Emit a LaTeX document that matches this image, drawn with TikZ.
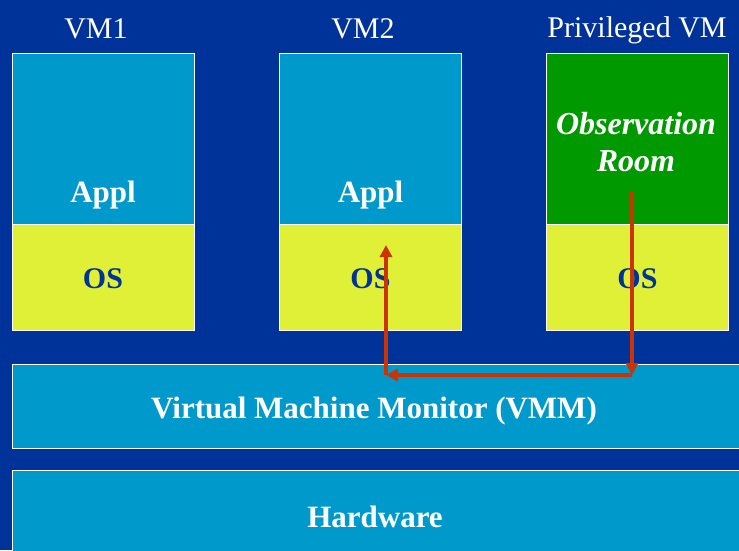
\documentclass[tikz,border=0pt]{standalone}
\usepackage{fontspec}
\setmainfont{Liberation Serif}
\usetikzlibrary{arrows.meta}
\definecolor{bgblue}{RGB}{0,51,153}
\definecolor{boxblue}{RGB}{0,153,204}
\definecolor{osyellow}{RGB}{223,240,55}
\definecolor{obsgreen}{RGB}{0,153,0}
\definecolor{arrred}{RGB}{204,51,0}
\tikzset{
  box/.style={draw=white, line width=0.9pt, inner sep=0pt, minimum width=182pt},
  applbox/.style={box, fill=boxblue, minimum height=171pt},
  osbox/.style={box, fill=osyellow, minimum height=106pt},
  obsbox/.style={box, fill=obsgreen, minimum height=171pt},
  wide/.style={draw=white, line width=0.9pt, inner sep=0pt, fill=boxblue, minimum width=740pt},
  vmlabel/.style={text=white, font=\fontsize{30}{32}\selectfont},
  appltext/.style={text=white, font=\bfseries\fontsize{31}{33}\selectfont},
  ostext/.style={text=bgblue, font=\bfseries\fontsize{30}{32}\selectfont},
  obstext/.style={text=white, font=\bfseries\itshape\fontsize{32}{37}\selectfont, align=center},
  widetext/.style={text=white, font=\bfseries\fontsize{31}{33}\selectfont},
  flow/.style={draw=arrred, line width=3.2pt, -{Triangle[width=12pt,length=12pt]}}
}
\begin{document}
\begin{tikzpicture}[x=1pt,y=-1pt]
\fill[bgblue] (0,0) rectangle (739,550);
\useasboundingbox (0,0) rectangle (739,550);
% VM labels
\node[vmlabel] (l1) at (96,29) {VM1};
\node[vmlabel] (l2) at (363,29) {VM2};
\node[vmlabel] (l3) at (637,30) {Privileged VM};
% VM1
\node[applbox] (a1) at (103,138.5) {};
\node[osbox] (o1) at (103,277) {};
\node[appltext] (a1t) at (103,195) {Appl};
\node[ostext] (o1t) at (103,279) {OS};
% VM2
\node[applbox] (a2) at (370.5,138.5) {};
\node[osbox] (o2) at (370.5,277) {};
\node[appltext] (a2t) at (370.5,195) {Appl};
\node[ostext] (o2t) at (370.5,279) {OS};
% Privileged
\node[obsbox] (a3) at (637.5,138.5) {};
\node[osbox] (o3) at (637.5,277) {};
\node[obstext] (a3t) at (636,142) {Observation\\Room};
\node[ostext] (o3t) at (637.5,279) {OS};
% VMM and Hardware
\node[wide, minimum height=84pt, anchor=north west] (vmm) at (12,364) {};
\node[widetext] (vmmt) at (374,411) {Virtual Machine Monitor (VMM)};
\node[wide, minimum height=90pt, anchor=north west] (hw) at (12,470) {};
\node[widetext] (hwt) at (375,517) {Hardware};
% arrows
\coordinate (s) at (632,192);
\coordinate (c1) at (632,375);
\coordinate (c2) at (386,375);
\coordinate (e) at (386,245);
\draw[flow] (s) -- (c1);
\draw[flow] (c1) -- (c2);
\draw[flow] (c2) -- (e);
\end{tikzpicture}
\end{document}
